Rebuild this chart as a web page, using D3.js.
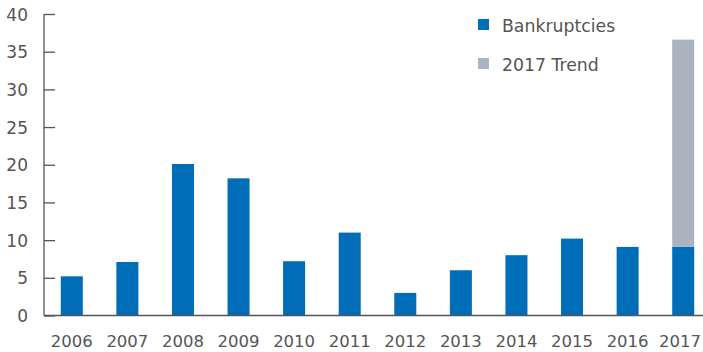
<!DOCTYPE html>
<html>
<head>
<meta charset="utf-8">
<script src="https://cdn.jsdelivr.net/npm/d3@7"></script>
<style>
  html, body { margin: 0; padding: 0; background: #fff; }
  svg { display: block; }
  text { font-family: "DejaVu Sans", sans-serif; fill: #555; }
</style>
</head>
<body>
<svg id="chart" width="703" height="352"></svg>
<script>
const years = ["2006","2007","2008","2009","2010","2011","2012","2013","2014","2015","2016","2017"];
const bankruptcies = [5.2, 7.1, 20.1, 18.2, 7.2, 11.0, 3.0, 6.0, 8.0, 10.2, 9.1, 9.1];
const trend = [0, 0, 0, 0, 0, 0, 0, 0, 0, 0, 0, 27.5];
const yTicks = [0, 5, 10, 15, 20, 25, 30, 35, 40];
const seriesNames = ["Bankruptcies", "2017 Trend"];
const colors = ["#006DB8", "#A9B4BE"];

const svg = d3.select("#chart");
const W = 703;
const mLeft = 44, mRight = 711, mTop = 14, mBottom = 315.5;
const fontFam = '"DejaVu Sans", sans-serif';

const x = d3.scaleBand().domain(years).range([mLeft, mRight]).paddingInner(0.604).paddingOuter(0.302);
const y = d3.scaleLinear().domain([0, 40]).range([mBottom, mTop]);

const data = years.map((yr, i) => ({ year: yr, b: bankruptcies[i], t: trend[i] }));
const stack = d3.stack().keys(["b", "t"])(data);

svg.append("g").selectAll("g").data(stack).join("g")
  .attr("fill", (d, i) => colors[i])
  .selectAll("rect").data(d => d.filter(p => p[1] - p[0] > 0)).join("rect")
  .attr("x", d => x(d.data.year))
  .attr("width", x.bandwidth())
  .attr("y", d => y(d[1]))
  .attr("height", d => y(d[0]) - y(d[1]));

// y axis
const yAxis = d3.axisLeft(y).tickValues(yTicks).tickSize(-11).tickPadding(16);
const gy = svg.append("g").attr("transform", `translate(${mLeft},0)`).call(yAxis);
gy.select(".domain").attr("stroke", "#555").attr("stroke-width", 1.3).attr("d", `M0,${mTop}V${mBottom}`);
gy.selectAll(".tick line").attr("stroke", "#555").attr("stroke-width", 1.3).attr("x1", 0).attr("x2", 11);
gy.selectAll(".tick text").attr("font-size", 17).attr("x", -16).attr("dy", "0.36em").attr("fill", "#555")
  .style("font-family", fontFam);

// x axis
const xAxis = d3.axisBottom(x).tickSize(0).tickPadding(20);
const gx = svg.append("g").attr("transform", `translate(0,${mBottom})`).call(xAxis);
gx.select(".domain").attr("stroke", "#555").attr("stroke-width", 1.3).attr("d", `M${mLeft},0H${W}`);
gx.selectAll(".tick text").attr("font-size", 16.5).attr("fill", "#555")
  .attr("y", 31.5).attr("dy", 0)
  .style("font-family", fontFam)
  .each(function() {
    const b = this.getBoundingClientRect();
    if (b.right > W - 2) d3.select(this).attr("dx", (W - 2) - b.right);
  });

// legend
const legend = svg.append("g");
seriesNames.forEach((name, i) => {
  const g = legend.append("g").attr("transform", `translate(478,${19 + i * 39})`);
  g.append("rect").attr("width", 11).attr("height", 11).attr("fill", colors[i]);
  g.append("text").attr("x", 24).attr("y", 12.5).attr("font-size", 17.3).attr("fill", "#555")
    .style("font-family", fontFam).text(name);
});
</script>
</body>
</html>
